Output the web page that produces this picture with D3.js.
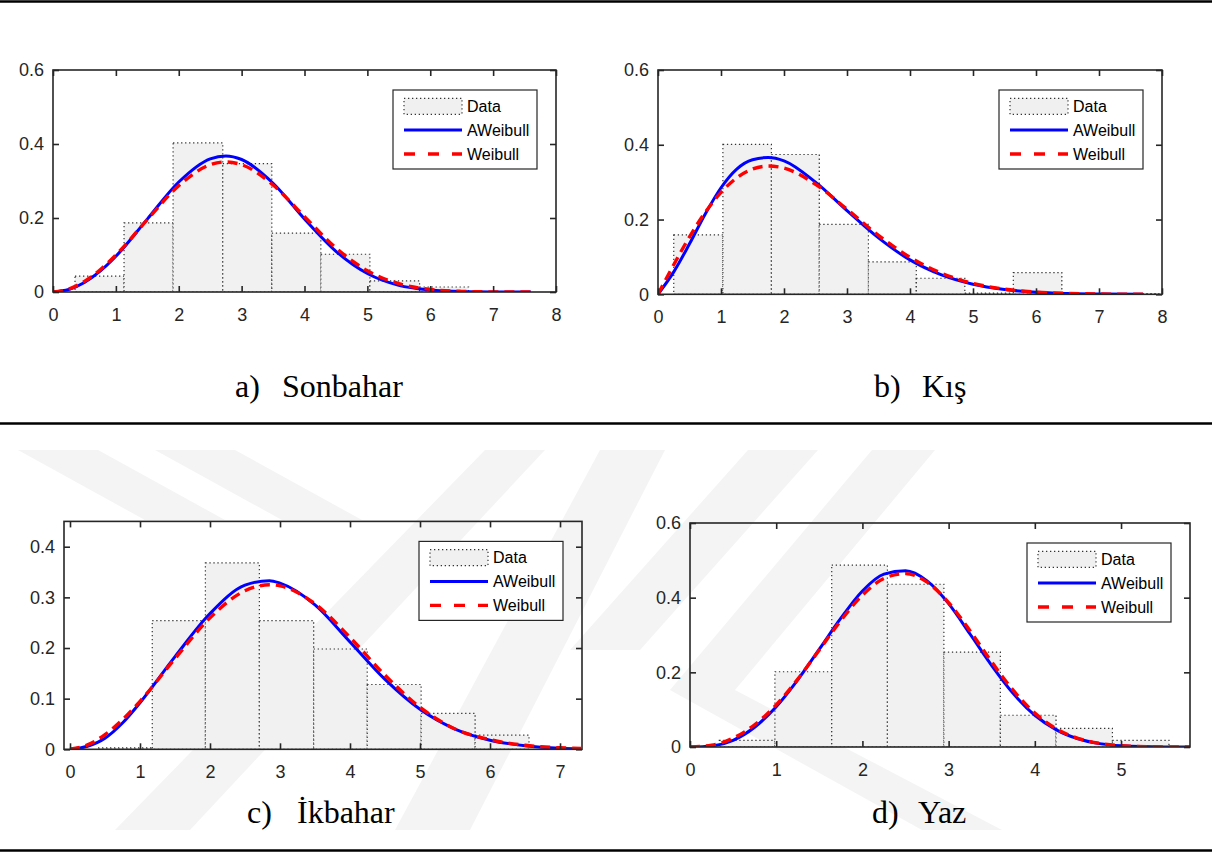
<!DOCTYPE html>
<html><head><meta charset="utf-8">
<script src="https://cdn.jsdelivr.net/npm/d3@7"></script>
<style>
body{margin:0;background:#fff}
svg{display:block}
</style>
</head><body>
<svg id="chart" width="1212" height="853"></svg>
<script>
// ---------------- DATA ----------------
const legendLabels = ["Data", "AWeibull", "Weibull"];
const captionLetters = ["a)", "b)", "c)", "d)"];
const captionNames = ["Sonbahar", "Kış", "İkbahar", "Yaz"];

// a) Sonbahar
const xTicksA = [0,1,2,3,4,5,6,7,8];
const yTicksA = [0,0.2,0.4,0.6];
const binEdgesA = [0.35,1.13,1.91,2.70,3.48,4.26,5.04,5.83,6.61];
const binHeightsA = [0.043,0.187,0.403,0.347,0.159,0.102,0.030,0.0135];
const curveXA = [0,0.25,0.5,0.75,1,1.5,2,2.5,2.75,3,3.5,4,4.5,5,5.5,6,6.5,7,7.6];
const aweibullA = [0,0.0067,0.0258,0.0562,0.0966,0.1970,0.2972,0.3599,0.3678,0.3581,0.2939,0.1973,0.1100,0.0500,0.0180,0.0055,0.0012,0.0002,0];
const weibullA = [0,0.0080,0.0286,0.0599,0.0999,0.1954,0.2873,0.3439,0.3515,0.3440,0.2891,0.2036,0.1191,0.0574,0.0225,0.0071,0.0018,0.0003,0];

// b) Kış
const xTicksB = [0,1,2,3,4,5,6,7,8];
const yTicksB = [0,0.2,0.4,0.6];
const binEdgesB = [0.25,1.03,1.80,2.56,3.34,4.10,4.87,5.64,6.41,7.18,7.95];
const binHeightsB = [0.159,0.401,0.374,0.187,0.087,0.043,0.003,0.058,0,0.002];
const curveXB = [0,0.25,0.5,0.75,1,1.25,1.5,1.75,2,2.5,3,3.5,4,4.5,5,5.5,6,6.5,7,7.7];
const aweibullB = [0,0.060,0.135,0.215,0.285,0.335,0.360,0.366,0.357,0.300,0.224,0.151,0.092,0.052,0.027,0.013,0.0055,0.0022,0.0008,0.0001];
const weibullB = [0,0.0792,0.1537,0.2193,0.2727,0.3115,0.3349,0.3431,0.3375,0.2943,0.2275,0.1577,0.0990,0.0564,0.0293,0.0139,0.0061,0.0024,0.0009,0.0002];

// c) İkbahar
const xTicksC = [0,1,2,3,4,5,6,7];
const yTicksC = [0,0.1,0.2,0.3,0.4];
const binEdgesC = [0.40,1.175,1.934,2.705,3.481,4.246,5.016,5.787,6.557];
const binHeightsC = [0.003,0.254,0.368,0.254,0.198,0.128,0.071,0.028];
const curveXC = [0,0.25,0.5,0.75,1,1.5,2,2.5,2.85,3,3.5,4,4.5,5,5.5,6,6.5,7,7.3];
const aweibullC = [0,0.006,0.022,0.052,0.092,0.183,0.268,0.324,0.333,0.328,0.285,0.212,0.138,0.079,0.040,0.018,0.007,0.002,0.001];
const weibullC = [0,0.0087,0.0290,0.0584,0.0947,0.1790,0.2597,0.3131,0.3249,0.3227,0.2872,0.2208,0.1463,0.0830,0.0402,0.0190,0.0080,0.0030,0.0015];

// d) Yaz
const xTicksD = [0,1,2,3,4,5];
const yTicksD = [0,0.2,0.4,0.6];
const binEdgesD = [0.34,0.985,1.644,2.290,2.945,3.600,4.246,4.900,5.556];
const binHeightsD = [0.018,0.2015,0.487,0.436,0.254,0.085,0.050,0.018];
const curveXD = [0,0.25,0.5,0.75,1,1.25,1.5,1.75,2,2.25,2.5,2.75,3,3.25,3.5,3.75,4,4.25,4.5,4.75,5,5.5,5.8];
const aweibullD = [0,0.003,0.018,0.053,0.108,0.180,0.262,0.345,0.418,0.463,0.472,0.445,0.384,0.302,0.218,0.143,0.085,0.046,0.022,0.009,0.0035,0.0003,0];
const weibullD = [0,0.0048,0.0237,0.0596,0.1130,0.1817,0.2601,0.3388,0.4067,0.4516,0.4645,0.4415,0.3867,0.3107,0.2278,0.1515,0.0908,0.0487,0.0232,0.0098,0.0036,0.0003,0];

// ---------------- LAYOUT ----------------
const panels = [
  {xDomain:[0,8], yDomain:[0,0.6], left:53, right:556, top:70, bottom:292,
   xTicks:xTicksA, yTicks:yTicksA, edges:binEdgesA, heights:binHeightsA,
   cx:curveXA, blue:aweibullA, red:weibullA, capX:[235,282], capY:397},
  {xDomain:[0,8], yDomain:[0,0.6], left:658, right:1162, top:70, bottom:294.3,
   xTicks:xTicksB, yTicks:yTicksB, edges:binEdgesB, heights:binHeightsB,
   cx:curveXB, blue:aweibullB, red:weibullB, capX:[874,922], capY:397},
  {xDomain:[-0.0857,7.314], yDomain:[0,0.45], left:64, right:582, top:521.4, bottom:749.3,
   xTicks:xTicksC, yTicks:yTicksC, edges:binEdgesC, heights:binHeightsC,
   cx:curveXC, blue:aweibullC, red:weibullC, capX:[247,297], capY:823},
  {xDomain:[0,5.8], yDomain:[0,0.6], left:690, right:1190, top:523, bottom:747,
   xTicks:xTicksD, yTicks:yTicksD, edges:binEdgesD, heights:binHeightsD,
   cx:curveXD, blue:aweibullD, red:weibullD, capX:[872,918], capY:823}
];

const svg = d3.select("#chart");
const SANS = "'Liberation Sans', Arial, Helvetica, sans-serif";
const SERIF = "'Liberation Serif', 'Times New Roman', serif";
const AX = "#262626";

// watermark (faint decorative chevron bands in lower half)
const wm = svg.append("g").attr("fill", "#f4f4f4");
const bands = [
  [[18,450],[98,450],[225,520],[145,520]],
  [[155,450],[235,450],[362,520],[282,520]],
  [[485,450],[545,450],[190,830],[115,830]],
  [[600,450],[665,450],[470,830],[395,830]],
  [[748,450],[818,450],[640,650],[570,650]],
  [[872,450],[935,450],[735,690],[670,690]],
  [[670,690],[735,690],[1002,830],[922,830]]
];
wm.selectAll("polygon").data(bands).join("polygon")
  .attr("points", d => d.map(p => p.join(",")).join(" "));

// horizontal rules
[1.5, 423.5, 850.5].forEach(yy => {
  svg.append("line").attr("x1",0).attr("x2",1212).attr("y1",yy).attr("y2",yy)
    .attr("stroke","#000").attr("stroke-width",2.6);
});

panels.forEach((p, i) => {
  const x = d3.scaleLinear().domain(p.xDomain).range([p.left, p.right]);
  const y = d3.scaleLinear().domain(p.yDomain).range([p.bottom, p.top]);
  const g = svg.append("g");
  const clipId = "clip" + i;
  g.append("clipPath").attr("id", clipId).append("rect")
    .attr("x", p.left).attr("y", p.top).attr("width", p.right - p.left).attr("height", p.bottom - p.top);

  const plot = g.append("g").attr("clip-path", `url(#${clipId})`);

  const bins = p.heights.map((h, j) => ({x0: p.edges[j], x1: p.edges[j+1], h}));
  plot.selectAll("rect.bar").data(bins).join("rect").attr("class","bar")
    .attr("x", d => x(d.x0)).attr("width", d => x(d.x1) - x(d.x0))
    .attr("y", d => y(d.h)).attr("height", d => y(0) - y(d.h))
    .attr("fill", "#f0f0f0").attr("fill-opacity", 0.92)
    .attr("stroke", "#333").attr("stroke-width", 1.2).attr("stroke-dasharray", "1.3,2.7");

  const line = d3.line().x(d => x(d[0])).y(d => y(d[1])).curve(d3.curveMonotoneX);
  plot.append("path").datum(p.cx.map((v, j) => [v, p.blue[j]]))
    .attr("d", line).attr("fill","none").attr("stroke","#0000ff").attr("stroke-width",3);
  plot.append("path").datum(p.cx.map((v, j) => [v, p.red[j]]))
    .attr("d", line).attr("fill","none").attr("stroke","#ff0000").attr("stroke-width",3.4)
    .attr("stroke-dasharray","10,6");

  // axes
  const fmtY = d => d === 0 ? "0" : d3.format(".1f")(d);
  const styleAxis = sel => {
    sel.select(".domain").remove();
    sel.attr("color", AX);
    sel.selectAll(".tick line").attr("stroke-width", 1.6);
    sel.selectAll("text").attr("font-family", SANS).attr("font-size", 18).attr("fill", AX);
  };
  g.append("g").attr("transform", `translate(0,${p.bottom})`)
    .call(d3.axisBottom(x).tickValues(p.xTicks).tickSize(-6).tickPadding(16).tickFormat(d3.format("d")))
    .call(styleAxis);
  g.append("g").attr("transform", `translate(0,${p.top})`)
    .call(d3.axisTop(x).tickValues(p.xTicks).tickSize(-6).tickFormat(""))
    .call(styleAxis);
  g.append("g").attr("transform", `translate(${p.left},0)`)
    .call(d3.axisLeft(y).tickValues(p.yTicks).tickSize(-6).tickPadding(9).tickFormat(fmtY))
    .call(styleAxis);
  g.append("g").attr("transform", `translate(${p.right},0)`)
    .call(d3.axisRight(y).tickValues(p.yTicks).tickSize(-6).tickFormat(""))
    .call(styleAxis);

  g.append("rect").attr("x", p.left).attr("y", p.top)
    .attr("width", p.right - p.left).attr("height", p.bottom - p.top)
    .attr("fill","none").attr("stroke", AX).attr("stroke-width", 1.6);

  // legend
  const lw = 144, lh = 79;
  const lg = g.append("g").attr("transform", `translate(${p.right - 19 - lw},${p.top + 20})`);
  lg.append("rect").attr("width", lw).attr("height", lh).attr("fill","#fff")
    .attr("stroke", AX).attr("stroke-width", 1.2);
  lg.append("rect").attr("x", 11).attr("y", 8.3).attr("width", 58).attr("height", 16)
    .attr("fill","#f0f0f0").attr("stroke","#333").attr("stroke-width",1.2).attr("stroke-dasharray","1.3,2.7");
  lg.append("line").attr("x1",11).attr("x2",69).attr("y1",40).attr("y2",40)
    .attr("stroke","#0000ff").attr("stroke-width",3);
  lg.append("line").attr("x1",11).attr("x2",69).attr("y1",64).attr("y2",64)
    .attr("stroke","#ff0000").attr("stroke-width",3.4).attr("stroke-dasharray","11,13");
  lg.selectAll("text").data(legendLabels).join("text")
    .attr("x", 74).attr("y", (d, j) => 16.3 + j * 24).attr("dy", "0.36em")
    .attr("font-family", SANS).attr("font-size", 16).attr("fill", "#000").text(d => d);

  // caption
  svg.append("text").attr("x", p.capX[0]).attr("y", p.capY)
    .attr("font-family", SERIF).attr("font-size", 32).attr("fill","#000").text(captionLetters[i]);
  svg.append("text").attr("x", p.capX[1]).attr("y", p.capY)
    .attr("font-family", SERIF).attr("font-size", 32).attr("fill","#000").text(captionNames[i]);
});
</script>
</body></html>
